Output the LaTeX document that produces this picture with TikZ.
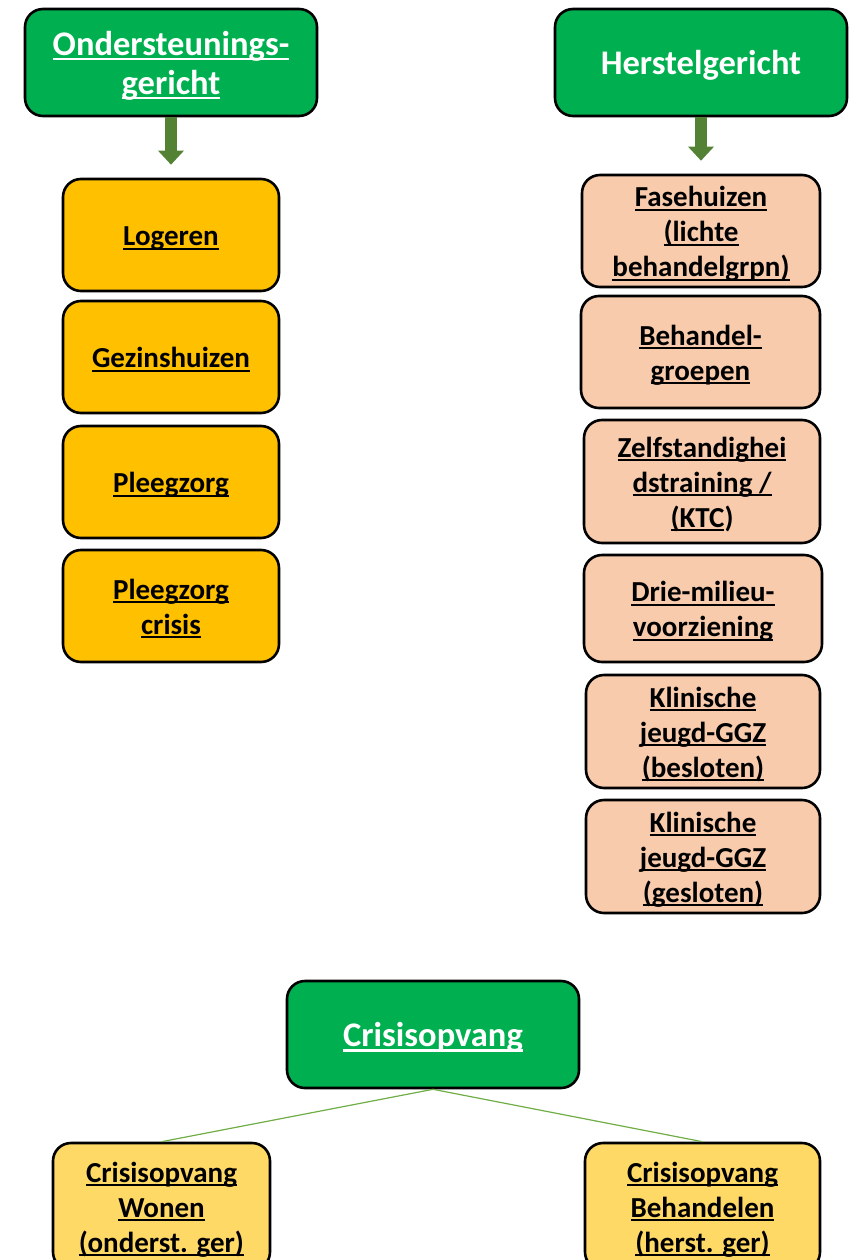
\documentclass[tikz,border=0pt]{standalone}
\usepackage{fontspec}
\setmainfont{Carlito}
\usetikzlibrary{arrows.meta}
\definecolor{hdrgreen}{HTML}{00B050}
\definecolor{orangefill}{HTML}{FFC000}
\definecolor{peachfill}{HTML}{F8CBAD}
\definecolor{yellowfill}{HTML}{FFD966}
\definecolor{arrowgreen}{HTML}{548235}
\definecolor{linegreen}{HTML}{70AD47}
% underline close to the baseline, as in the reference
\newcommand{\ul}[1]{\setbox0\hbox{#1}\rlap{\rule[-0.145em]{\wd0}{0.068em}}\box0}
% centred lines with regular spacing, inked slightly lower
\newcommand{\itemtxt}[1]{\raisebox{-3.5pt}[\height][\depth]{\begin{tabular}{@{}c@{}}#1\end{tabular}}}
\newcommand{\hdrtxt}[1]{\raisebox{-4.5pt}[\height][\depth]{\begin{tabular}{@{}c@{}}#1\end{tabular}}}
\tikzset{
  box/.style={draw=black, line width=2.6pt, rounded corners=18pt, inner sep=0pt, font=\bfseries\fontsize{29}{35}\selectfont},
  header/.style={box, fill=hdrgreen, text=white, minimum width=292pt, minimum height=107pt, font=\bfseries\fontsize{34.5}{39}\selectfont},
  orangebox/.style={box, fill=orangefill, minimum width=216pt, minimum height=112pt},
  peachbox/.style={box, fill=peachfill},
  yellowbox/.style={box, fill=yellowfill},
  bigarrow/.style={draw=arrowgreen, line width=12pt, -{Triangle[width=25pt,length=14pt]}, shorten >=13pt},
  thinline/.style={draw=linegreen, line width=1.2pt}
}
\begin{document}
\begin{tikzpicture}[x=1pt,y=1pt]
\useasboundingbox (0,0) rectangle (855,-1260);
\clip (0,0) rectangle (855,-1260);
% headers
\node[header] (ond) at (171,-62.5) {\hdrtxt{\ul{Ondersteunings-}\\\ul{gericht}}};
\node[header] (her) at (701,-62.5) {\hdrtxt{Herstelgericht}};
% left column
\node[orangebox] (log) at (171,-235) {\itemtxt{\ul{Logeren}}};
\node[orangebox] (gez) at (171,-357) {\itemtxt{\ul{Gezinshuizen}}};
\node[orangebox] (ple) at (171,-482) {\itemtxt{\ul{Pleegzorg}}};
\node[orangebox] (plc) at (171,-606) {\itemtxt{\ul{Pleegzorg}\\\ul{crisis}}};
% right column
\node[peachbox, minimum width=238pt, minimum height=112pt] (fas) at (701,-231) {\itemtxt{\ul{Fasehuizen}\\\ul{(lichte}\\\ul{behandelgrpn)}}};
\node[peachbox, minimum width=239pt, minimum height=112pt] (beh) at (700.5,-352) {\itemtxt{\ul{Behandel-}\\\ul{groepen}}};
\node[peachbox, minimum width=236pt, minimum height=123pt] (zel) at (702,-481.5) {\itemtxt{\ul{Zelfstandighei}\\\ul{dstraining /}\\\ul{(KTC})}};
\node[peachbox, minimum width=238pt, minimum height=107pt] (dri) at (703,-608.5) {\itemtxt{\ul{Drie-milieu-}\\\ul{voorziening}}};
\node[peachbox, minimum width=234pt, minimum height=113pt] (kl1) at (703,-731.5) {\itemtxt{\ul{Klinische}\\\ul{jeugd-GGZ}\\\ul{(besloten)}}};
\node[peachbox, minimum width=234pt, minimum height=113pt] (kl2) at (703,-856.5) {\itemtxt{\ul{Klinische}\\\ul{jeugd-GGZ}\\\ul{(gesloten)}}};
% crisis
\node[header] (cri) at (433,-1034.5) {\hdrtxt{\ul{Crisisopvang}}};
\node[yellowbox, minimum width=217pt, minimum height=127pt] (cw) at (161.5,-1206.5) {\itemtxt{\ul{Crisisopvang}\\\ul{Wonen}\\\ul{(onderst. ger)}}};
\node[yellowbox, minimum width=235pt, minimum height=127pt] (cb) at (702.5,-1206.5) {\itemtxt{\ul{Crisisopvang}\\\ul{Behandelen}\\\ul{(herst. ger)}}};
% arrows
\draw[bigarrow] (ond.south) -- (log.north);
\draw[bigarrow] (her.south) -- (fas.north);
% connectors
\draw[thinline] (cri.south) -- (cw.north);
\draw[thinline] (cri.south) -- (cb.north);
\end{tikzpicture}
\end{document}
